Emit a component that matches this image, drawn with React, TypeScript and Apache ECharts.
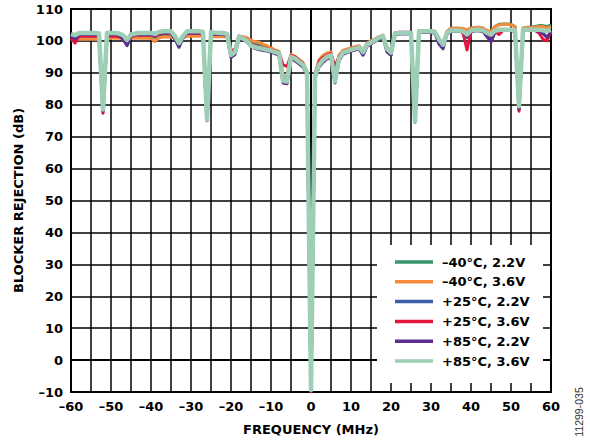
import React, { useEffect, useRef } from "react";
import * as echarts from "echarts";

const freqs = [
  -60, -59, -58, -57, -56, -55, -54, -53, -52, -51,
  -50, -49, -48, -47, -46, -45, -44, -43, -42, -41,
  -40, -39, -38, -37, -36, -35, -34, -33, -32, -31,
  -30, -29, -28, -27, -26, -25, -24, -23, -22, -21,
  -20, -19, -18, -17, -16, -15, -14, -13, -12, -11,
  -10, -9, -8, -7, -6, -5, -4, -3, -2, -1,
  0, 1, 2, 3, 4, 5, 6, 7, 8, 9,
  10, 11, 12, 13, 14, 15, 16, 17, 18, 19,
  20, 21, 22, 23, 24, 25, 26, 27, 28, 29,
  30, 31, 32, 33, 34, 35, 36, 37, 38, 39,
  40, 41, 42, 43, 44, 45, 46, 47, 48, 49,
  50, 51, 52, 53, 54, 55, 56, 57, 58, 59,
  60,
];

const m40v22 = [
  101.3, 101.0, 101.5, 101.5, 101.5, 101.5, 101.5, 101.3, 78.0, 101.5,
  101.5, 101.5, 101.3, 101.0, 99.8, 101.3, 101.5, 101.5, 101.5, 101.5,
  101.5, 101.0, 101.8, 102.0, 102.0, 102.0, 100.8, 98.8, 101.0, 102.0,
  102.0, 102.0, 102.0, 101.8, 75.2, 101.8, 101.8, 101.8, 101.8, 101.5,
  95.8, 96.8, 101.3, 101.0, 100.5, 99.5, 99.0, 98.8, 98.3, 98.0,
  97.5, 96.8, 96.3, 88.0, 88.0, 95.3, 94.8, 93.8, 92.8, 90.3,
  -9.6, 89.5, 93.5, 95.0, 95.8, 96.0, 88.3, 95.0, 96.8, 97.2,
  97.5, 98.0, 98.3, 96.5, 99.0, 99.8, 100.4, 101.2, 101.6, 97.5,
  96.5, 102.4, 102.5, 102.5, 102.5, 102.5, 74.8, 103.2, 103.2, 103.2,
  103.2, 102.8, 99.8, 98.3, 102.8, 104.0, 104.0, 104.0, 103.8, 103.2,
  104.0, 104.2, 104.3, 104.0, 103.0, 102.5, 104.5, 105.2, 105.3, 105.3,
  105.2, 104.5, 78.5, 104.0, 104.3, 104.3, 104.5, 104.8, 104.8, 104.5,
  105.0,
];

const m40v36 = [
  100.3, 100.3, 100.5, 100.5, 100.5, 100.5, 100.5, 100.5, 78.5, 100.7,
  100.8, 100.8, 100.8, 100.8, 100.5, 100.8, 100.8, 100.8, 100.8, 100.8,
  100.8, 99.8, 101.0, 101.2, 101.2, 101.2, 100.8, 99.5, 101.0, 101.5,
  101.5, 101.5, 101.5, 101.3, 75.5, 101.3, 101.3, 101.3, 101.3, 101.3,
  96.3, 97.0, 101.5, 101.3, 101.0, 100.2, 99.8, 99.6, 99.0, 98.5,
  97.8, 97.2, 96.8, 89.0, 88.8, 95.8, 95.2, 94.2, 93.2, 90.5,
  -9.5, 89.8, 94.0, 95.5, 96.2, 96.5, 89.0, 95.5, 97.0, 97.5,
  97.8, 98.2, 98.5, 97.0, 99.3, 100.0, 100.6, 101.3, 101.8, 98.0,
  97.0, 102.5, 102.6, 102.6, 102.6, 102.6, 75.0, 103.2, 103.2, 103.2,
  103.2, 103.0, 100.5, 99.0, 103.0, 104.0, 104.0, 104.0, 103.8, 103.5,
  104.0, 104.2, 104.2, 104.0, 103.3, 103.0, 104.5, 105.0, 105.2, 105.2,
  105.0, 104.5, 79.0, 104.0, 104.2, 104.2, 104.3, 104.5, 104.5, 104.0,
  104.5,
];

const p25v22 = [
  101.8, 100.8, 102.0, 102.0, 102.0, 102.0, 102.0, 101.8, 78.0, 102.0,
  102.0, 102.0, 101.8, 100.8, 98.7, 101.5, 102.0, 102.0, 102.0, 102.0,
  102.0, 101.8, 102.3, 102.5, 102.5, 102.5, 100.8, 98.3, 101.0, 102.5,
  102.5, 102.5, 102.5, 102.3, 75.0, 102.3, 102.2, 102.0, 102.0, 101.8,
  95.2, 96.0, 101.0, 100.6, 99.8, 98.3, 97.8, 97.5, 97.2, 97.0,
  96.7, 96.2, 95.8, 87.2, 87.0, 94.7, 94.0, 93.0, 92.0, 89.7,
  -9.8, 88.5, 92.0, 93.5, 94.6, 95.0, 87.0, 94.0, 96.0, 96.5,
  97.0, 97.3, 97.7, 95.8, 98.5, 99.2, 100.0, 100.8, 101.3, 96.8,
  95.6, 102.0, 102.3, 102.3, 102.3, 102.3, 74.6, 102.8, 102.8, 102.8,
  102.8, 102.5, 99.5, 97.8, 102.3, 103.0, 103.0, 103.0, 102.8, 101.0,
  103.0, 103.2, 103.2, 103.0, 101.5, 99.8, 102.8, 103.3, 103.3, 103.3,
  103.3, 103.0, 78.6, 103.3, 103.3, 103.3, 103.3, 103.2, 102.5, 101.0,
  102.8,
];

const p25v36 = [
  100.8, 99.3, 101.5, 101.5, 101.5, 101.5, 101.5, 101.3, 77.3, 101.5,
  101.5, 101.5, 101.3, 100.8, 99.5, 101.3, 101.8, 101.8, 101.8, 101.8,
  101.8, 101.5, 102.0, 102.3, 102.3, 102.3, 101.0, 98.8, 101.0, 102.3,
  102.3, 102.3, 102.3, 102.2, 75.2, 102.3, 102.2, 102.0, 102.0, 101.8,
  97.0, 97.3, 101.5, 101.0, 100.3, 99.0, 98.5, 98.2, 97.8, 97.5,
  97.3, 96.8, 96.5, 92.5, 92.0, 95.5, 95.0, 94.0, 93.0, 90.0,
  -10.0, 89.5, 93.5, 94.8, 95.5, 96.0, 92.0, 95.2, 96.5, 97.0,
  97.4, 97.8, 98.2, 96.8, 99.0, 99.7, 100.4, 101.2, 101.6, 97.0,
  97.0, 102.5, 102.7, 102.7, 102.7, 102.7, 74.8, 103.0, 103.0, 103.0,
  103.0, 102.8, 100.0, 98.5, 102.8, 103.3, 103.3, 103.3, 102.5, 97.2,
  103.0, 103.3, 103.3, 103.0, 101.8, 99.8, 103.0, 102.0, 103.3, 103.3,
  103.3, 103.0, 78.0, 103.3, 103.3, 103.3, 103.3, 102.5, 100.5, 100.0,
  102.8,
];

const p85v22 = [
  101.8, 100.5, 102.0, 102.0, 102.0, 102.0, 102.0, 101.8, 78.0, 102.0,
  102.0, 102.0, 101.8, 100.5, 98.5, 101.5, 102.0, 102.0, 102.0, 102.0,
  102.0, 101.8, 102.3, 102.5, 102.5, 102.5, 100.5, 98.0, 101.0, 102.5,
  102.5, 102.5, 102.5, 102.3, 75.0, 102.3, 102.2, 102.0, 102.0, 101.8,
  94.8, 95.7, 100.8, 100.5, 99.7, 98.2, 97.6, 97.3, 97.0, 96.8,
  96.5, 96.0, 95.5, 86.8, 86.6, 94.5, 93.8, 92.8, 91.8, 89.5,
  -9.8, 88.3, 91.8, 93.3, 94.4, 94.8, 86.8, 93.8, 95.8, 96.3,
  96.8, 97.1, 97.5, 95.5, 98.3, 99.0, 99.8, 100.6, 101.1, 96.5,
  95.5, 101.8, 102.2, 102.2, 102.2, 102.2, 74.5, 102.7, 102.7, 102.7,
  102.7, 102.3, 99.0, 97.5, 102.2, 103.0, 103.0, 103.0, 102.8, 101.3,
  103.0, 103.2, 103.2, 103.0, 101.3, 99.8, 102.8, 103.3, 103.3, 103.3,
  103.3, 103.0, 78.6, 103.3, 103.3, 103.3, 103.3, 103.0, 102.3, 101.2,
  102.8,
];

const p85v36 = [
  102.2, 101.8, 102.5, 102.5, 102.5, 102.5, 102.5, 102.3, 78.5, 102.5,
  102.5, 102.5, 102.3, 101.8, 100.3, 102.0, 102.3, 102.5, 102.5, 102.5,
  102.5, 102.2, 102.8, 103.0, 103.0, 103.0, 101.5, 99.3, 101.5, 103.0,
  103.0, 103.0, 103.0, 102.8, 75.3, 102.7, 102.6, 102.5, 102.5, 102.2,
  95.6, 96.5, 101.3, 100.8, 100.0, 98.5, 98.0, 97.8, 97.5, 97.2,
  97.0, 96.5, 96.2, 87.5, 87.3, 95.0, 94.5, 93.5, 92.5, 90.0,
  -9.3, 89.0, 92.5, 94.0, 95.0, 95.5, 87.3, 94.5, 96.3, 96.8,
  97.2, 97.6, 98.0, 96.5, 98.8, 99.5, 100.2, 101.0, 101.5, 97.5,
  96.3, 102.3, 102.5, 102.5, 102.5, 102.5, 74.8, 103.0, 103.0, 103.0,
  103.0, 102.8, 100.5, 98.8, 102.5, 103.3, 103.3, 103.3, 103.0, 102.0,
  103.3, 103.5, 103.5, 103.3, 102.5, 102.0, 103.2, 103.5, 103.5, 103.5,
  103.5, 103.3, 79.5, 103.5, 103.5, 103.5, 103.5, 103.5, 103.3, 103.2,
  103.5,
];

const seriesNames = [
  "\u201340\u00b0C, 2.2V",
  "\u201340\u00b0C, 3.6V",
  "+25\u00b0C, 2.2V",
  "+25\u00b0C, 3.6V",
  "+85\u00b0C, 2.2V",
  "+85\u00b0C, 3.6V",
];
const seriesValues = [m40v22, m40v36, p25v22, p25v36, p85v22, p85v36];
const seriesColors = ["#3a9668", "#f58a3d", "#3d5fa6", "#e3173e", "#5c2e91", "#9ccfb5"];
const seriesWidths = [3, 3, 3, 3, 3, 4.5];

const FONT = "'DejaVu Sans', sans-serif";

export default function App() {
  const ref = useRef<HTMLDivElement>(null);
  useEffect(() => {
    if (!ref.current) return;
    const chart = echarts.init(ref.current, undefined, { renderer: "svg" });
    const fmt = (v: number) => String(v).replace("-", "\u2013");
    chart.setOption({
      animation: false,
      backgroundColor: "#fff",
      grid: {
        left: 71,
        top: 9,
        right: 39,
        bottom: 50,
        show: true,
        borderColor: "#000",
        borderWidth: 2,
      },
      xAxis: {
        type: "value",
        min: -60,
        max: 60,
        interval: 5,
        name: "FREQUENCY (MHz)",
        nameLocation: "middle",
        nameGap: 31,
        nameTextStyle: { fontFamily: FONT, fontWeight: "bold", fontSize: 13, color: "#000" },
        axisLine: { lineStyle: { color: "#000", width: 2 } },
        axisTick: { show: false },
        axisLabel: {
          margin: 8,
          fontFamily: FONT,
          fontWeight: "bold",
          fontSize: 13,
          color: "#000",
          formatter: (v: number) => (v % 10 === 0 ? fmt(v) : ""),
        },
        splitLine: { show: true, lineStyle: { color: "#000", width: 1.5 } },
      },
      yAxis: {
        type: "value",
        min: -10,
        max: 110,
        interval: 10,
        name: "BLOCKER REJECTION (dB)",
        nameLocation: "middle",
        nameGap: 46,
        nameTextStyle: { fontFamily: FONT, fontWeight: "bold", fontSize: 13, color: "#000" },
        axisLine: { show: true, lineStyle: { color: "#000", width: 2 } },
        axisTick: { show: false },
        axisLabel: {
          margin: 8,
          fontFamily: FONT,
          fontWeight: "bold",
          fontSize: 13,
          color: "#000",
          formatter: (v: number) => fmt(v),
        },
        splitLine: { show: true, lineStyle: { color: "#000", width: 1.5 } },
      },
      legend: {
        orient: "vertical",
        left: 395,
        top: 254,
        padding: 0,
        z: 10,
        icon: "rect",
        itemWidth: 38,
        itemHeight: 3.5,
        itemGap: 3.8,
        data: seriesNames,
        textStyle: {
          fontFamily: FONT,
          fontWeight: "bold",
          fontSize: 13,
          color: "#000",
          lineHeight: 16,
          padding: [0, 0, 0, 4],
        },
      },
      graphic: [
        {
          type: "rect",
          z: 5,
          shape: { x: 377, y: 245, width: 166, height: 138 },
          style: { fill: "#fff" },
        },
        {
          type: "text",
          z: 5,
          x: 579,
          y: 412,
          rotation: Math.PI / 2,
          style: {
            text: "11299-035",
            fontFamily: "'Liberation Sans', Arial, sans-serif",
            fontSize: 10.5,
            fill: "#333",
            align: "center",
            verticalAlign: "middle",
          },
        },
      ],
      series: seriesNames.map((name, i) => ({
        name,
        type: "line",
        color: seriesColors[i],
        symbol: "none",
        z: 2 + i * 0.1,
        lineStyle: { width: seriesWidths[i], color: seriesColors[i], join: "round" },
        data: freqs.map((f, k) => [f, seriesValues[i][k]]),
      })),
    });
    return () => chart.dispose();
  }, []);
  return (
    <div
      ref={ref}
      style={{ position: "fixed", left: 0, top: 0, width: 590, height: 442 }}
    />
  );
}
